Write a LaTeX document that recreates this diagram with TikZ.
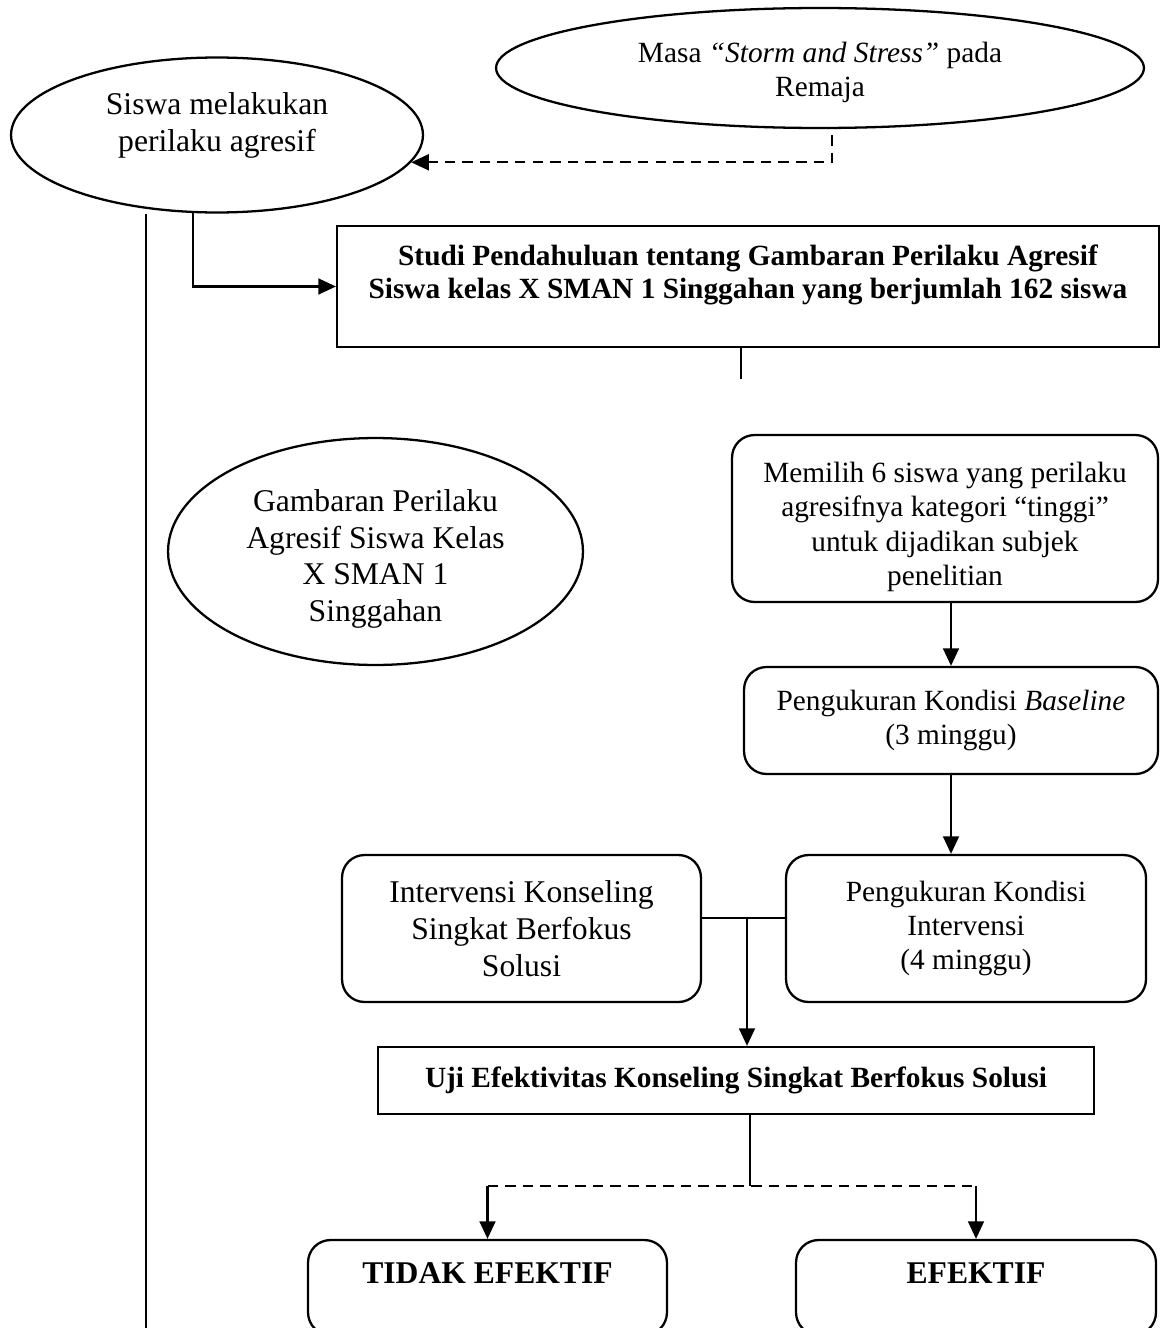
\documentclass[tikz,border=0pt]{standalone}
\usepackage{fontspec}
\setmainfont{Liberation Serif}
\usetikzlibrary{shapes.geometric,arrows.meta}
\newcommand{\besar}{\fontsize{18pt}{21pt}\selectfont}
\newcommand{\biasa}{\fontsize{16.7pt}{19.6pt}\selectfont}
\newcommand{\tebal}{\fontsize{16.7pt}{18.8pt}\selectfont\bfseries}

\begin{document}
\begin{tikzpicture}[x=0.02cm, y=-0.02cm,
    oval/.style={ellipse, draw, line width=1.3pt, align=center, inner sep=0pt},
    kotak/.style={rectangle, draw, line width=1.3pt, align=center},
    bulat/.style={rectangle, rounded corners=0.45cm, draw, line width=1.3pt, align=center},
    panah/.style={line width=1.3pt, -{Triangle[length=10pt, width=9pt]}},
    garis/.style={line width=0.6pt},
    putus/.style={line width=1.3pt, dash pattern=on 6pt off 4pt}]
    \useasboundingbox (0,0) rectangle (1160,1328);
    \clip (0,0) rectangle (1160,1328);

    % oval
    \node[oval, minimum width=12.96cm, minimum height=2.4cm, text height=36pt, font=\biasa] (storm) at (820, 68) {Masa \textit{“Storm and Stress”} pada\\Remaja};
    \node[oval, minimum width=8.24cm, minimum height=3.1cm, text depth=15pt, font=\besar] (siswa) at (217, 135) {Siswa melakukan\\perilaku agresif};
    \node[oval, minimum width=8.3cm, minimum height=4.54cm, text height=84pt, font=\besar] (gambaran) at (375.5, 551.5) {Gambaran Perilaku\\Agresif Siswa Kelas\\X SMAN 1\\Singgahan};

    % kotak
    \node[kotak, minimum width=16.44cm, minimum height=2.42cm, text depth=17pt, font=\tebal] (studi) at (748, 286.5) {Studi Pendahuluan tentang Gambaran Perilaku Agresif\\Siswa kelas X SMAN 1 Singgahan yang berjumlah 162 siswa};
    \node[bulat, minimum width=8.52cm, minimum height=3.34cm, text height=80pt, font=\biasa] (memilih) at (945, 518.5) {Memilih 6 siswa yang perilaku\\agresifnya kategori “tinggi”\\untuk dijadikan subjek\\penelitian};
    \node[bulat, minimum width=8.28cm, minimum height=2.14cm, font=\biasa] (baseline) at (951, 720.5) {Pengukuran Kondisi \textit{Baseline}\\(3 minggu)};
    \node[bulat, minimum width=7.18cm, minimum height=2.94cm, font=\besar] (intkons) at (521.5, 928.5) {Intervensi Konseling\\Singkat Berfokus\\Solusi};
    \node[bulat, minimum width=7.2cm, minimum height=2.94cm, font=\biasa] (pengint) at (966, 928.5) {Pengukuran Kondisi\\Intervensi\\(4 minggu)};
    \node[kotak, minimum width=14.32cm, minimum height=1.34cm, font=\tebal] (uji) at (736, 1080.5) {Uji Efektivitas Konseling Singkat Berfokus Solusi};
    \node[bulat, minimum width=7.18cm, minimum height=1.9cm, text depth=16pt, font=\besar\bfseries] (tidak) at (487.5, 1287.5) {TIDAK EFEKTIF};
    \node[bulat, minimum width=7.2cm, minimum height=1.9cm, text depth=16pt, font=\besar\bfseries] (efektif) at (976, 1287.5) {EFEKTIF};

    \coordinate (dashtop) at (832, 135);
    \coordinate (kiribawah) at (146, 1340);
    \coordinate (studiujung) at (741, 379);
    \coordinate (temu) at (747, 918);
    \coordinate (cabang) at (750, 1186);

    % garis dan panah
    \draw[putus, -{Triangle[length=10pt, width=9pt]}] (dashtop) |- (siswa.-8.6);
    \draw[garis] (siswa.south -| kiribawah) -- (kiribawah);
    \draw[panah] (siswa.-107) |- (studi.west);
    \draw[garis] (studi.south -| studiujung) -- (studiujung);
    \draw[panah] (memilih.south -| baseline.north) -- (baseline.north);
    \draw[panah] (baseline.south) -- (baseline.south |- pengint.north);
    \draw[line width=1.3pt] (intkons.east |- temu) -- (pengint.west |- temu);
    \draw[panah] (temu) -- (temu |- uji.north);
    \draw[garis] (uji.south -| cabang) -- (cabang);
    \draw[putus] (tidak.north |- cabang) -- (efektif.north |- cabang);
    \draw[panah] (tidak.north |- cabang) -- (tidak.north);
    \draw[panah] (efektif.north |- cabang) -- (efektif.north);
\end{tikzpicture}
\end{document}
